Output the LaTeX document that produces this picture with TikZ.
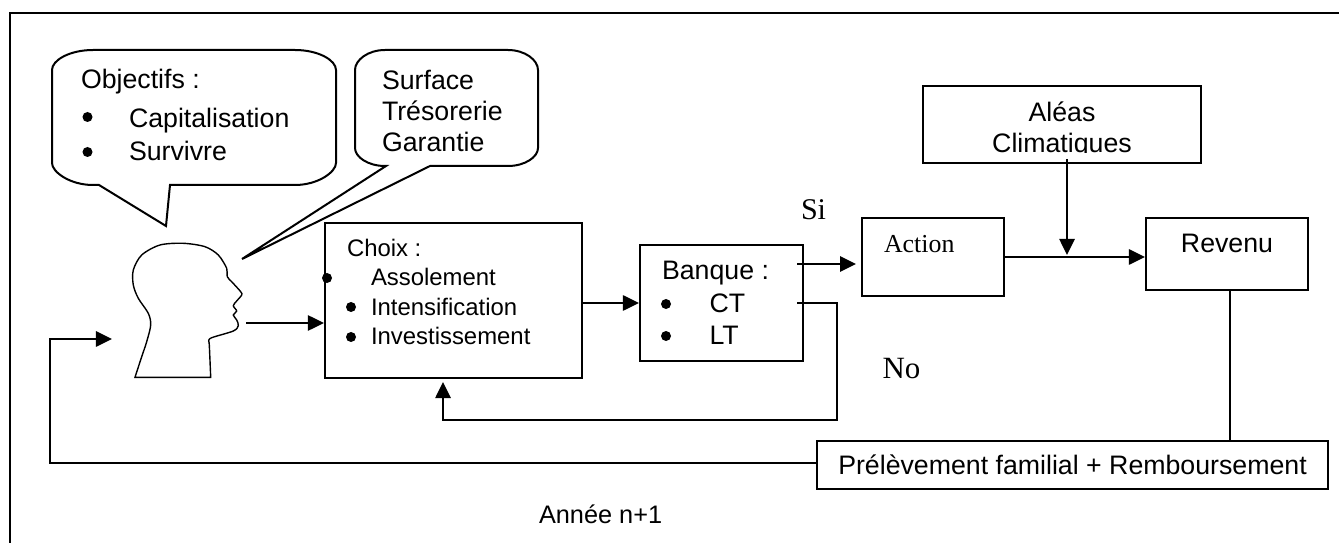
\documentclass[tikz,border=0pt]{standalone}
\usepackage{fontspec}
\setmainfont{Liberation Sans}
\newfontfamily\timesfont{Liberation Serif}
\usetikzlibrary{arrows.meta, positioning, calc}
\newcommand{\puce}{\tikz[baseline=-0.6ex]\fill (0,0) circle (0.125cm);}

\begin{document}
\begin{tikzpicture}[
    x=0.025cm, y=-0.025cm,
    line width=0.05cm,
    box/.style={draw, minimum height=1cm, inner sep=0pt, font=\fontsize{19}{22}\selectfont},
    label/.style={inner sep=0pt, anchor=base west, font=\fontsize{19}{22}\selectfont},
    smalllabel/.style={inner sep=0pt, anchor=base west, font=\fontsize{17}{20}\selectfont},
    serif/.style={inner sep=0pt, anchor=base west, font=\timesfont\fontsize{#1}{#1}\selectfont},
    arrow/.style={-{Triangle[length=0.4cm, width=0.38cm]}, line width=0.05cm}
]
    \useasboundingbox (0,0) rectangle (1339,543);
    % Outer frame
    \draw (10,543) -- (10,13) -- (1339,13);

    % Speech bubbles
    \draw (99,185) -- (93,185) .. controls (70,185) and (52,172) .. (52,163) -- (52,70)
        .. controls (52,60) and (70,50) .. (93,50) -- (295,50)
        .. controls (318,50) and (336,60) .. (336,70) -- (336,163)
        .. controls (336,172) and (318,185) .. (295,185) -- (170,185) -- (166,226) -- cycle;
    \draw (386,166) -- (385,166) .. controls (368,166) and (355,157) .. (355,148) -- (355,70)
        .. controls (355,60) and (368,50) .. (385,50) -- (508,50)
        .. controls (525,50) and (538,60) .. (538,70) -- (538,148)
        .. controls (538,157) and (525,166) .. (508,166) -- (430,166) -- (242,259) -- cycle;
    \node[label] (objectifs) at (80,89) {Objectifs :};
    \node[label] (capital) at (128,128) {Capitalisation};
    \node[label] (survivre) at (128,161) {Survivre};
    \node (pucea) at (87.5,117) {\puce};
    \node (puceb) at (87.5,152) {\puce};
    \node[label] (surface) at (381,90) {Surface};
    \node[label] (tresorerie) at (381,121) {Trésorerie};
    \node[label] (garantie) at (381,152) {Garantie};

    % Head
    \draw[line width=0.035cm] plot[smooth, tension=0.5] coordinates {(210.7,377.3) (209.3,345) (208.7,341) (211.7,337.7) (233.3,331) (238.3,325.7) (236.7,320) (233.3,315) (236.7,311) (233.3,305.7) (236.7,301) (241.7,295) (240.7,291.7) (231.7,281.7) (227.3,276.7) (226.7,268.3) (218.3,255) (205,246.7) (183.3,243.3) (160,245) (141.7,255) (133.3,270) (133.3,285) (138.3,298.3) (148.3,313.3) (150.7,325) (146.7,341.7) (141.7,356.7) (135,377.3)} -- cycle;
    \coordinate (headout) at (246,323);
    \coordinate (headin) at (112,339);

    % Boxes
    \node[box, minimum width=6.425cm, minimum height=3.875cm] (choix) at (453.5,300.5) {};
    \node[box, minimum width=4.075cm, minimum height=2.9cm] (banque) at (721.5,303) {};
    \node[box, minimum width=3.55cm, minimum height=1.95cm] (action) at (933,257) {};
    \node[box, minimum width=4.05cm, minimum height=1.8cm] (revenu) at (1227,254) {};
    \node[box, minimum width=6.95cm, minimum height=1.93cm] (aleas) at (1062,124.7) {};
    \node[box, minimum width=12.775cm, minimum height=1.2cm] (prelevement) at (1072.5,465) {Prélèvement familial + Remboursement};

    % Box texts
    \node[smalllabel] (choixtitre) at (346,257) {Choix :};
    \node[smalllabel] (assolement) at (370,286) {Assolement};
    \node[smalllabel] (intensif) at (370,316) {Intensification};
    \node[smalllabel] (invest) at (370,345) {Investissement};
    \node (pucec) at (327,278) {\puce};
    \node (puced) at (351,307) {\puce};
    \node (pucee) at (351,337) {\puce};
    \node[label] (banquetitre) at (661,280) {Banque :};
    \node[label] (ct) at (708.5,313) {CT};
    \node[label] (lt) at (708.5,345) {LT};
    \node (pucef) at (666,304) {\puce};
    \node (puceg) at (666,336) {\puce};
    \node[serif=18.4] (actiontxt) at (883,253) {Action};
    \node[label, anchor=base] (revenutxt) at (1227,253) {Revenu};
    \node[label, anchor=base] (aleastxt) at (1062,122) {Aléas};
    \begin{scope}
        \clip (923,125) rectangle (1201,153);
        \node[label, anchor=base] (climat) at (1062,152.7) {Climatiques};
    \end{scope}
    \node[smalllabel, font=\fontsize{18}{21}\selectfont] (annee) at (538,523) {Année n+1};
    \node[serif=21.4] (si) at (800,220) {Si};
    \node[serif=22] (no) at (881.5,378) {No};

    % Arrows
    \coordinate (banquesi) at (797,264);
    \coordinate (actionin) at (856,264);
    \coordinate (banqueno) at (797,303);
    \coordinate (choixin) at (443,382);
    \coordinate (aleasout) at (1067,159);
    \coordinate (jonction) at (1067,255);
    \draw[arrow] (headout) -- (headout -| choix.west);
    \draw[arrow] (choix.east |- banque.west) -- (banque.west);
    \draw[arrow] (banquesi) -- (actionin);
    \draw[arrow] (banqueno) -- (837,303) -- (837,420) -- (443,420) -- (choixin);
    \draw[arrow] (action.east |- 0,257) -- (revenu.west |- 0,257);
    \draw[arrow] (aleasout) -- (jonction);
    \draw (revenu.south -| 1230,0) -- (prelevement.north -| 1230,0);
    \draw[arrow] (prelevement.west |- 0,463) -- (50,463) -- (50,339) -- (headin);
\end{tikzpicture}
\end{document}
